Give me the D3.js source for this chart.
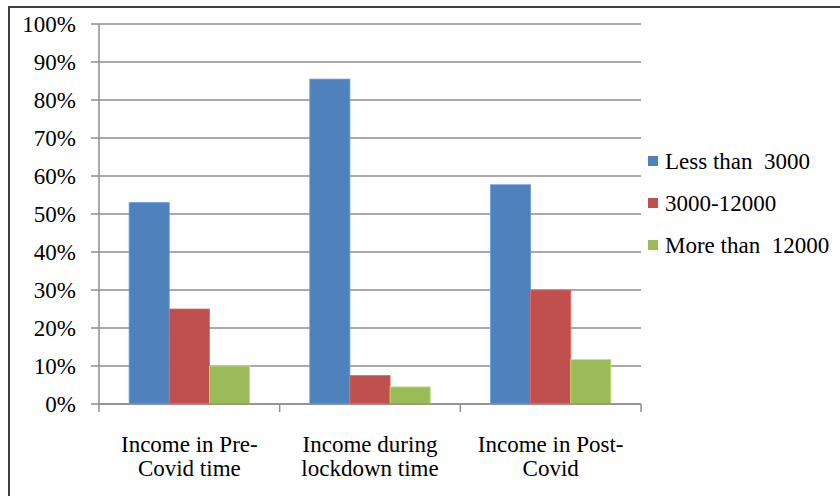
<!DOCTYPE html>
<html>
<head>
<meta charset="utf-8">
<script src="https://cdn.jsdelivr.net/npm/d3@7"></script>
</head>
<body style="margin:0">
<svg width="840" height="496"></svg>
<script>
// data
var categories = [["Income in Pre-", "Covid time"], ["Income during", "lockdown time"], ["Income in Post-", "Covid"]];
var series = ["Less than  3000", "3000-12000", "More than  12000"];
var lessThan3000 = [0.53, 0.855, 0.577];
var from3000to12000 = [0.25, 0.075, 0.30];
var moreThan12000 = [0.10, 0.045, 0.117];
var yTicks = [0, 0.1, 0.2, 0.3, 0.4, 0.5, 0.6, 0.7, 0.8, 0.9, 1.0];
var colors = ["#4F81BD", "#C0504D", "#9BBB59"];

var values = [lessThan3000, from3000to12000, moreThan12000];

var svg = d3.select("svg");

// outer frame (cut off on right and bottom)
svg.append("rect")
    .attr("x", 9).attr("y", 7)
    .attr("width", 900).attr("height", 600)
    .attr("fill", "none")
    .attr("stroke", "#404040")
    .attr("stroke-width", 2);

var plotLeft = 99, plotRight = 641, plotTop = 24, plotBottom = 404;

var x0 = d3.scaleBand()
    .domain(d3.range(categories.length))
    .range([plotLeft, plotRight]);

var x1 = d3.scaleBand()
    .domain(d3.range(series.length))
    .range([0, x0.bandwidth()])
    .paddingOuter(0.75);

var y = d3.scaleLinear()
    .domain([0, 1])
    .range([plotBottom, plotTop]);

// gridlines
svg.append("g")
    .selectAll("line")
    .data(yTicks)
    .enter().append("line")
    .attr("x1", plotLeft - 8).attr("x2", plotRight)
    .attr("y1", function (d) { return y(d); })
    .attr("y2", function (d) { return y(d); })
    .attr("stroke", "#8e8e8e")
    .attr("stroke-width", 1.5);

// y labels
svg.append("g")
    .selectAll("text")
    .data(yTicks)
    .enter().append("text")
    .attr("x", 76)
    .attr("y", function (d) { return y(d) + 8; })
    .attr("text-anchor", "end")
    .attr("font-size", 23)
    .style("font-family", function () { return "Liberation Serif"; })
    .text(function (d) { return d3.format(".0%")(d); });

// bars
var groups = svg.append("g")
    .selectAll("g")
    .data(categories)
    .enter().append("g")
    .attr("transform", function (d, i) { return "translate(" + x0(i) + ",0)"; });

groups.selectAll("rect")
    .data(function (d, i) { return values.map(function (v, s) { return { s: s, v: v[i] }; }); })
    .enter().append("rect")
    .attr("x", function (d) { return x1(d.s); })
    .attr("width", x1.bandwidth())
    .attr("y", function (d) { return y(d.v); })
    .attr("height", function (d) { return y(0) - y(d.v); })
    .attr("fill", function (d) { return colors[d.s]; })
    .attr("stroke", function (d) { return d3.color(colors[d.s]).brighter(0.6); })
    .attr("stroke-width", 0.8);

// axes lines
svg.append("line")
    .attr("x1", plotLeft).attr("x2", plotLeft)
    .attr("y1", plotTop).attr("y2", plotBottom)
    .attr("stroke", "#8e8e8e").attr("stroke-width", 1.5);

svg.append("line")
    .attr("x1", plotLeft).attr("x2", plotRight)
    .attr("y1", plotBottom).attr("y2", plotBottom)
    .attr("stroke", "#8e8e8e").attr("stroke-width", 1.5);

svg.append("g")
    .selectAll("line")
    .data(d3.range(categories.length + 1))
    .enter().append("line")
    .attr("x1", function (d) { return plotLeft + d * x0.step(); })
    .attr("x2", function (d) { return plotLeft + d * x0.step(); })
    .attr("y1", plotBottom).attr("y2", plotBottom + 8)
    .attr("stroke", "#8e8e8e").attr("stroke-width", 1.5);

// x labels, two lines each
var xl = svg.append("g")
    .selectAll("g")
    .data(categories)
    .enter().append("g");

xl.selectAll("text")
    .data(function (d, i) { return d.map(function (t) { return { t: t, i: i }; }); })
    .enter().append("text")
    .attr("text-anchor", "middle")
    .attr("x", function (d) { return x0(d.i) + x0.bandwidth() / 2; })
    .attr("y", function (d, j) { return 452 + j * 24; })
    .attr("font-size", 23)
    .style("font-family", function () { return "Liberation Serif"; })
    .text(function (d) { return d.t; });

// legend
var legend = svg.append("g")
    .selectAll("g")
    .data(series)
    .enter().append("g")
    .attr("transform", function (d, i) { return "translate(648," + (161 + i * 42) + ")"; });

legend.append("rect")
    .attr("x", 0).attr("y", -5)
    .attr("width", 10).attr("height", 10)
    .attr("fill", function (d, i) { return colors[i]; });

legend.append("text")
    .attr("x", 17)
    .attr("y", 8)
    .attr("font-size", 23)
    .attr("xml:space", "preserve")
    .style("font-family", function () { return "Liberation Serif"; })
    .text(function (d) { return d; });
</script>
</body>
</html>
